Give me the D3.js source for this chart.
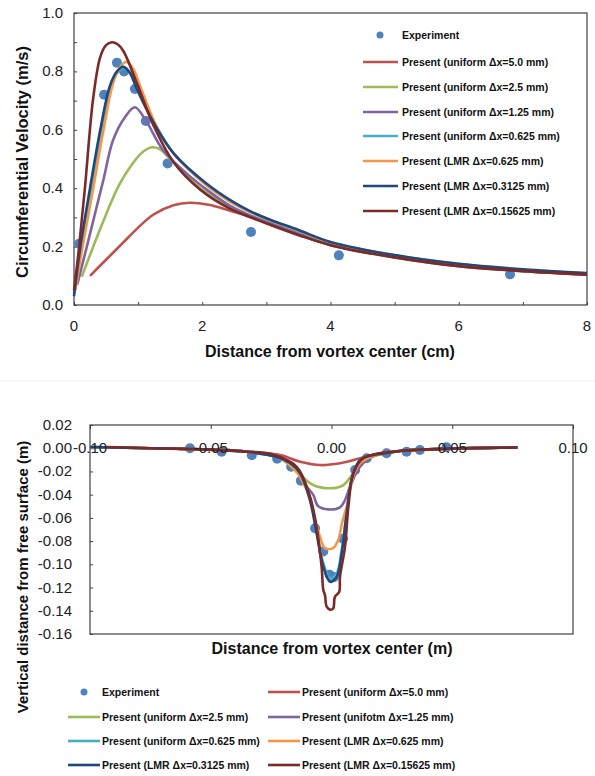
<!DOCTYPE html>
<html><head><meta charset="utf-8">
<script src="https://cdn.jsdelivr.net/npm/d3@7"></script>
<style>body{margin:0;background:#fff;}svg{display:block;font-family:"Liberation Sans",Arial,sans-serif;}</style>
</head><body>
<svg id="c" width="595" height="776"></svg>
<script>
// ---------- Top chart data ----------
const topXTicks = [0, 2, 4, 6, 8];
const topYTicks = [0.0, 0.2, 0.4, 0.6, 0.8, 1.0];
const expTopX = [0.08, 0.47, 0.67, 0.78, 0.95, 1.12, 1.46, 2.76, 4.13, 6.8];
const expTopY = [0.21, 0.72, 0.83, 0.80, 0.74, 0.63, 0.485, 0.25, 0.17, 0.105];

const u50X = [0.25,0.5,0.75,1.0,1.24,1.55,1.81,2.1,2.4,2.76,3.06,3.5,4,5,6,7,8];
const u50Y = [0.10,0.155,0.21,0.265,0.31,0.342,0.35,0.343,0.325,0.30,0.275,0.24,0.205,0.163,0.133,0.116,0.104];
const u25X = [0.12,0.3,0.5,0.7,0.9,1.05,1.21,1.33,1.45,1.7,2.0,2.4,2.76,3.06,3.5,4,5,6,7,8];
const u25Y = [0.097,0.2,0.31,0.41,0.48,0.52,0.54,0.535,0.512,0.455,0.395,0.34,0.305,0.28,0.245,0.208,0.165,0.135,0.117,0.105];
const u125X = [0.05,0.2,0.33,0.46,0.61,0.8,0.95,1.13,1.39,1.76,2.07,2.43,2.76,3.06,3.5,4,5,6,7,8];
const u125Y = [0.07,0.2,0.315,0.43,0.565,0.645,0.677,0.628,0.53,0.45,0.395,0.34,0.305,0.28,0.245,0.207,0.165,0.135,0.117,0.105];
const u0625X = [0.0,0.12,0.27,0.43,0.58,0.69,0.79,0.89,1.0,1.26,1.57,2.07,2.43,2.76,3.06,3.5,4,5,6,7,8];
const u0625Y = [0.04,0.21,0.40,0.60,0.75,0.80,0.812,0.79,0.73,0.62,0.515,0.41,0.355,0.317,0.289,0.254,0.214,0.169,0.139,0.12,0.107];
const l0625X = [0.02,0.15,0.30,0.46,0.61,0.72,0.82,0.92,1.03,1.29,1.55,2.07,2.43,2.76,3.06,3.5,4,5,6,7,8];
const l0625Y = [0.05,0.22,0.40,0.60,0.76,0.815,0.833,0.81,0.75,0.61,0.52,0.41,0.355,0.318,0.29,0.255,0.215,0.17,0.14,0.121,0.108];
const l03125X = [0.0,0.1,0.25,0.41,0.56,0.67,0.77,0.87,0.98,1.24,1.55,2.07,2.43,2.76,3.06,3.5,4,5,6,7,8];
const l03125Y = [0.03,0.2,0.40,0.60,0.75,0.80,0.816,0.795,0.74,0.625,0.52,0.415,0.36,0.32,0.292,0.257,0.216,0.171,0.141,0.122,0.109];
const l015X = [0.0,0.08,0.17,0.30,0.41,0.5,0.59,0.68,0.77,0.98,1.24,1.55,1.97,2.43,2.76,3.06,3.5,4,5,6,7,8];
const l015Y = [0.05,0.2,0.40,0.71,0.85,0.89,0.90,0.893,0.87,0.76,0.615,0.49,0.395,0.33,0.30,0.275,0.24,0.205,0.163,0.133,0.116,0.104];

// ---------- Bottom chart data ----------
const botXTicks = [-0.10, -0.05, 0.00, 0.05, 0.10];
const botYTicks = [0.02, 0.00, -0.02, -0.04, -0.06, -0.08, -0.10, -0.12, -0.14, -0.16];
const expBotX = [-0.0586,-0.0455,-0.033,-0.0225,-0.0167,-0.0127,-0.0068,-0.0034,-0.0008,0.0010,0.0048,0.0098,0.0146,0.0228,0.0311,0.0366,0.0476];
const expBotY = [0.0,-0.003,-0.006,-0.009,-0.016,-0.028,-0.069,-0.089,-0.109,-0.111,-0.078,-0.0188,-0.0087,-0.0044,-0.003,-0.0016,0.0008];

const b50X = [-0.10,-0.075,-0.05,-0.035,-0.0213,-0.013,-0.0048,0.0035,0.0118,0.020,0.03,0.04,0.05,0.065,0.077];
const b50Y = [0.001,0,-0.0012,-0.003,-0.0059,-0.0116,-0.0145,-0.013,-0.0087,-0.0044,-0.002,-0.001,-0.0003,0.0003,0.0006];
const b25X = [-0.10,-0.075,-0.05,-0.035,-0.0213,-0.013,-0.0076,-0.0006,0.0049,0.009,0.0131,0.020,0.03,0.04,0.05,0.065,0.077];
const b25Y = [0.001,0,-0.0012,-0.003,-0.0087,-0.023,-0.0317,-0.0345,-0.0317,-0.0216,-0.0116,-0.0053,-0.002,-0.001,-0.0003,0.0003,0.0006];
const b125X = [-0.10,-0.075,-0.05,-0.035,-0.022,-0.015,-0.0103,-0.0076,-0.0055,-0.0014,0.0035,0.0056,0.0077,0.0118,0.017,0.022,0.03,0.04,0.05,0.065,0.077];
const b125Y = [0.001,0,-0.0012,-0.003,-0.008,-0.018,-0.033,-0.040,-0.050,-0.0527,-0.051,-0.0446,-0.033,-0.016,-0.007,-0.0045,-0.002,-0.001,-0.0003,0.0003,0.0006];
const b0625X = [-0.10,-0.075,-0.05,-0.035,-0.022,-0.017,-0.013,-0.0089,-0.0062,-0.0034,-0.0006,0.0021,0.0042,0.0063,0.0083,0.0118,0.017,0.022,0.03,0.04,0.05,0.065,0.077];
const b0625Y = [0.001,0,-0.0012,-0.003,-0.008,-0.013,-0.021,-0.043,-0.071,-0.099,-0.112,-0.108,-0.088,-0.055,-0.027,-0.010,-0.006,-0.0045,-0.002,-0.001,-0.0003,0.0003,0.0006];
const bL0625X = [-0.10,-0.075,-0.05,-0.035,-0.022,-0.015,-0.0103,-0.0076,-0.0048,-0.0027,0.0007,0.0028,0.0043,0.007,0.009,0.0118,0.017,0.022,0.03,0.04,0.05,0.065,0.077];
const bL0625Y = [0.001,0,-0.0012,-0.003,-0.008,-0.019,-0.036,-0.056,-0.076,-0.086,-0.086,-0.079,-0.065,-0.0446,-0.0245,-0.013,-0.007,-0.0045,-0.002,-0.001,-0.0003,0.0003,0.0006];
const bL03125X = [-0.10,-0.075,-0.05,-0.035,-0.022,-0.017,-0.013,-0.0089,-0.0062,-0.0034,-0.0006,0.0021,0.0042,0.0063,0.0083,0.0118,0.017,0.022,0.03,0.04,0.05,0.065,0.077];
const bL03125Y = [0.001,0,-0.0012,-0.003,-0.008,-0.013,-0.0216,-0.0446,-0.073,-0.102,-0.115,-0.111,-0.0906,-0.056,-0.0274,-0.0102,-0.006,-0.0045,-0.002,-0.001,-0.0003,0.0003,0.0006];
const bL015X = [-0.093,-0.075,-0.05,-0.035,-0.025,-0.0144,-0.0089,-0.0062,-0.0041,-0.0034,-0.0027,-0.002,-0.0006,0.0007,0.0014,0.0032,0.0035,0.0056,0.007,0.009,0.0131,0.020,0.03,0.04,0.05,0.065,0.077];
const bL015Y = [0.001,0,-0.0012,-0.003,-0.005,-0.016,-0.0418,-0.0676,-0.102,-0.122,-0.1265,-0.1365,-0.139,-0.138,-0.128,-0.1236,-0.111,-0.0848,-0.050,-0.0216,-0.0087,-0.0044,-0.002,-0.001,-0.0003,0.0003,0.0006];

const seriesColors = ["#C0504D","#9BBB59","#8064A2","#4BACC6","#F79646","#1F497D","#7B2A2A"];
const expColor = "#4F81BD";
const topNames = ["Present (uniform \u0394x=5.0 mm)","Present (uniform \u0394x=2.5 mm)","Present (uniform \u0394x=1.25 mm)","Present (uniform \u0394x=0.625 mm)","Present (LMR \u0394x=0.625 mm)","Present (LMR \u0394x=0.3125 mm)","Present (LMR \u0394x=0.15625 mm)"];
const botNames = ["Present (uniform \u0394x=5.0 mm)","Present (uniform \u0394x=2.5 mm)","Present (unifotm \u0394x=1.25 mm)","Present (uniform \u0394x=0.625 mm)","Present (LMR \u0394x=0.625 mm)","Present (LMR \u0394x=0.3125 mm)","Present (LMR \u0394x=0.15625 mm)"];

const topSeries = [[u50X,u50Y],[u25X,u25Y],[u125X,u125Y],[u0625X,u0625Y],[l0625X,l0625Y],[l03125X,l03125Y],[l015X,l015Y]];
const botSeries = [[b50X,b50Y],[b25X,b25Y],[b125X,b125Y],[b0625X,b0625Y],[bL0625X,bL0625Y],[bL03125X,bL03125Y],[bL015X,bL015Y]];

const svg = d3.select("#c");
const frame = "#404040";

// separator
svg.append("line").attr("x1",0).attr("x2",595).attr("y1",381).attr("y2",381).attr("stroke","#f0f0f0");

function zip(xs, ys){ return xs.map((x,i)=>[x, ys[i]]); }

// ===== TOP CHART =====
{
  const L=74, R=587, T=13, B=305;
  const x = d3.scaleLinear().domain([0,8]).range([L,R]);
  const y = d3.scaleLinear().domain([0,1]).range([B,T]);
  const g = svg.append("g");
  const yAxis = d3.axisLeft(y).tickValues(d3.range(0,1.0001,0.1)).tickSize(-3).tickFormat("");
  g.append("g").attr("transform",`translate(${L},0)`).call(yAxis).call(s=>{s.select(".domain").remove(); s.selectAll("line").attr("stroke",frame);});
  const xAxis = d3.axisBottom(x).tickValues(d3.range(0,8.001,1)).tickSize(-3).tickFormat("");
  g.append("g").attr("transform",`translate(0,${B})`).call(xAxis).call(s=>{s.select(".domain").remove(); s.selectAll("line").attr("stroke",frame);});
  g.selectAll(".yl").data(topYTicks).join("text").attr("x",L-11).attr("y",d=>y(d)+5).attr("text-anchor","end")
    .attr("font-size",15).attr("fill","#222").text(d=>d.toFixed(1));
  g.selectAll(".xl").data(topXTicks).join("text").attr("x",d=>x(d)).attr("y",B+26).attr("text-anchor","middle")
    .attr("font-size",15).attr("fill","#222").text(d=>d);
  g.append("rect").attr("x",L).attr("y",T).attr("width",R-L).attr("height",B-T).attr("fill","none").attr("stroke",frame).attr("stroke-width",1.2);
  g.selectAll(".ept").data(zip(expTopX,expTopY)).join("circle").attr("cx",d=>x(d[0])).attr("cy",d=>y(d[1])).attr("r",5).attr("fill",expColor);
  const line = d3.line().x(d=>x(d[0])).y(d=>y(d[1])).curve(d3.curveCatmullRom.alpha(0.5));
  topSeries.forEach((s,i)=>{
    g.append("path").attr("d",line(zip(s[0],s[1]))).attr("fill","none").attr("stroke",seriesColors[i]).attr("stroke-width",2.6).attr("stroke-linejoin","round");
  });
  g.append("text").attr("x",330).attr("y",357).attr("text-anchor","middle").attr("font-size",16).attr("font-weight","bold").attr("fill","#111").text("Distance from vortex center (cm)");
  g.append("text").attr("transform",`translate(28,${(T+B)/2+3}) rotate(-90)`).attr("text-anchor","middle").attr("font-size",16.5).attr("font-weight","bold").attr("fill","#111").text("Circumferential Velocity (m/s)");
  const lg = g.append("g");
  const rows = [35,62,87,112,136,161,186,211];
  lg.append("circle").attr("cx",380).attr("cy",rows[0]).attr("r",3.5).attr("fill",expColor);
  lg.append("text").attr("x",402).attr("y",rows[0]+3.5).attr("font-size",10.5).attr("font-weight","bold").attr("fill","#111").text("Experiment");
  topNames.forEach((n,i)=>{
    lg.append("line").attr("x1",363).attr("x2",398).attr("y1",rows[i+1]).attr("y2",rows[i+1]).attr("stroke",seriesColors[i]).attr("stroke-width",2.6);
    lg.append("text").attr("x",402).attr("y",rows[i+1]+3.5).attr("font-size",10.5).attr("font-weight","bold").attr("fill","#111").text(n);
  });
}

// ===== BOTTOM CHART =====
{
  const L=90, R=573, T=425, B=634;
  const x = d3.scaleLinear().domain([-0.10,0.10]).range([L,R]);
  const y = d3.scaleLinear().domain([-0.16,0.02]).range([B,T]);
  const g = svg.append("g");
  const yAxis = d3.axisLeft(y).tickValues(botYTicks).tickSize(-3).tickFormat("");
  g.append("g").attr("transform",`translate(${L},0)`).call(yAxis).call(s=>{s.select(".domain").remove(); s.selectAll("line").attr("stroke",frame);});
  const xAxis = d3.axisTop(x).tickValues(botXTicks).tickSize(-4).tickFormat("");
  g.append("g").attr("transform",`translate(0,${T})`).call(xAxis).call(s=>{s.select(".domain").remove(); s.selectAll("line").attr("stroke",frame);});
  g.selectAll(".yl").data(botYTicks).join("text").attr("x",L-18).attr("y",d=>y(d)+5).attr("text-anchor","end")
    .attr("font-size",15).attr("fill","#222").text(d=>d.toFixed(2));
  g.append("rect").attr("x",L).attr("y",T).attr("width",R-L).attr("height",B-T).attr("fill","none").attr("stroke",frame).attr("stroke-width",1.2);
  g.selectAll(".ept").data(zip(expBotX,expBotY)).join("circle").attr("cx",d=>x(d[0])).attr("cy",d=>y(d[1])).attr("r",5).attr("fill",expColor);
  const line = d3.line().x(d=>x(d[0])).y(d=>y(d[1])).curve(d3.curveCatmullRom.alpha(0.5));
  botSeries.forEach((s,i)=>{
    g.append("path").attr("d",line(zip(s[0],s[1]))).attr("fill","none").attr("stroke",seriesColors[i]).attr("stroke-width",2.6).attr("stroke-linejoin","round");
  });
  g.selectAll(".xl").data(botXTicks).join("text").attr("x",d=>x(d)).attr("y",y(0)+5).attr("text-anchor","middle")
    .attr("font-size",15).attr("fill","#222").text(d=>d.toFixed(2));
  g.append("text").attr("x",332).attr("y",654).attr("text-anchor","middle").attr("font-size",16).attr("font-weight","bold").attr("fill","#111").text("Distance from vortex center (m)");
  g.append("text").attr("transform",`translate(28,577) rotate(-90)`).attr("text-anchor","middle").attr("font-size",15).attr("font-weight","bold").attr("fill","#111").text("Vertical distance from free surface (m)");
  const rows = [692,717,741,765];
  const cols = [[68,100,102],[268,300,302]];
  g.append("circle").attr("cx",84).attr("cy",rows[0]).attr("r",3.5).attr("fill",expColor);
  g.append("text").attr("x",102).attr("y",rows[0]+3.5).attr("font-size",10.5).attr("font-weight","bold").attr("fill","#111").text("Experiment");
  botNames.forEach((n,i)=>{
    const k=i+1, r=rows[Math.floor(k/2)], c=cols[k%2];
    g.append("line").attr("x1",c[0]).attr("x2",c[1]).attr("y1",r).attr("y2",r).attr("stroke",seriesColors[i]).attr("stroke-width",2.6);
    g.append("text").attr("x",c[2]).attr("y",r+3.5).attr("font-size",10.5).attr("font-weight","bold").attr("fill","#111").text(n);
  });
}
</script>
</body></html>
